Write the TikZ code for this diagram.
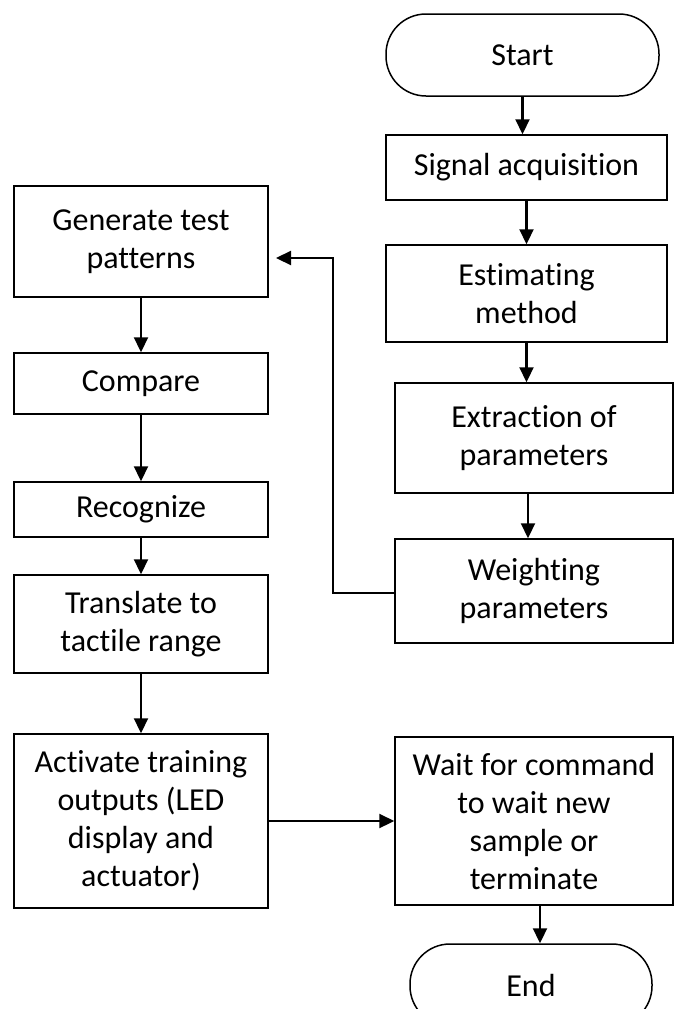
\documentclass[tikz,border=0pt]{standalone}
\usepackage{fontspec}
\setmainfont{Carlito}[Ligatures=NoCommon]
\usetikzlibrary{arrows.meta}
\begin{document}
\begin{tikzpicture}[x=1pt,y=-1pt,
  box/.style={draw, line width=1.5pt, align=center, inner sep=0pt,
    font=\fontsize{32}{38}\selectfont},
  term/.style={box, rounded corners=40pt},
  arr/.style={line width=2.2pt, -{Triangle[length=15pt,width=14pt]}}]
\useasboundingbox (0,0) rectangle (674,1009);
% right column
\node[term, minimum width=273pt, minimum height=82pt] (start) at (522.5,55) {Start};
\node[box, minimum width=281pt, minimum height=65pt] (sig) at (526.5,167.5) {Signal acquisition};
\node[box, minimum width=281pt, minimum height=97pt] (est) at (526.5,293.5) {Estimating\\method};
\node[box, minimum width=278pt, minimum height=110pt] (ext) at (534,438) {Extraction of\\parameters};
\node[box, minimum width=278pt, minimum height=104pt] (wgt) at (534,591) {Weighting\\parameters};
\node[box, minimum width=278pt, minimum height=168pt] (wait) at (534,821) {Wait for command\\to wait new\\sample or\\terminate};
\node[term, minimum width=242pt, minimum height=82pt] (end) at (531,985) {End};
% left column
\node[box, minimum width=254pt, minimum height=111pt] (gen) at (141,241.5) {Generate test\\patterns};
\node[box, minimum width=254pt, minimum height=61pt] (cmp) at (141,383.5) {Compare};
\node[box, minimum width=254pt, minimum height=55pt] (rec) at (141,509.5) {Recognize};
\node[box, minimum width=254pt, minimum height=98pt] (tra) at (141,624) {Translate to\\tactile range};
\node[box, minimum width=254pt, minimum height=174pt] (act) at (141,821) {Activate training\\outputs (LED\\display and\\actuator)};
% connectors
\draw[arr] (start.south) -- (start.south |- sig.north);
\draw[arr] (sig.south) -- (est.north);
\draw[arr] (est.south) -- (est.south |- ext.north);
\draw[arr] ([xshift=-6pt]ext.south) -- ([xshift=-6pt]wgt.north);
\draw[arr] ([xshift=6pt]wait.south) -- ([xshift=6pt]wait.south |- end.north);
\draw[arr] (gen.south) -- (cmp.north);
\draw[arr] (cmp.south) -- (rec.north);
\draw[arr] (rec.south) -- (tra.north);
\draw[arr] (tra.south) -- (act.north);
\draw[arr] (act.east) -- (wait.west);
\coordinate (lp) at (333,593);
\coordinate (gp) at (276,258);
\draw[arr] (wgt.west |- lp) -- (lp) -- (lp |- gp) -- (gp);
\end{tikzpicture}
\end{document}
